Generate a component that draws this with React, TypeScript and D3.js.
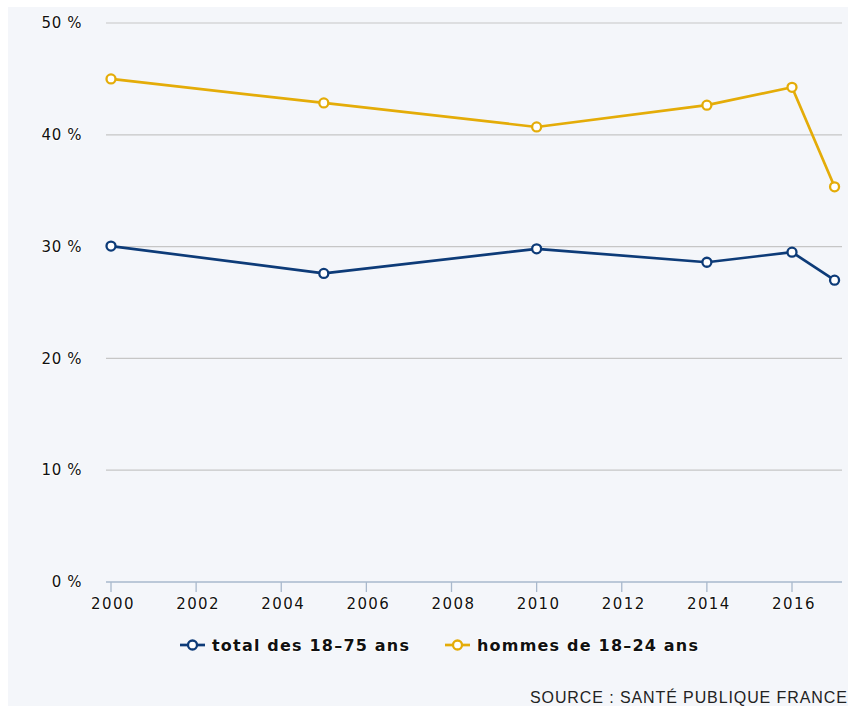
import React from "react";
import * as d3 from "d3";

const years = [2000, 2005, 2010, 2014, 2016, 2017];
const totalValues = [30.05, 27.6, 29.8, 28.6, 29.5, 27.0];
const hommesValues = [45.0, 42.85, 40.7, 42.65, 44.25, 35.35];
const yTicks = [0, 10, 20, 30, 40, 50];
const xTicks = [2000, 2002, 2004, 2006, 2008, 2010, 2012, 2014, 2016];
const seriesNames = ["total des 18–75 ans", "hommes de 18–24 ans"];
const colors = ["#0d3b78", "#e4ac08"];

export default function App() {
  const W = 848, H = 706;
  const x = d3.scaleLinear().domain([2000, 2016]).range([111, 792]);
  const y = d3.scaleLinear().domain([0, 50]).range([582, 23]);
  const line = d3.line<[number, number]>().x(d => x(d[0])).y(d => y(d[1]));
  const series = [totalValues, hommesValues];
  const font = "'DejaVu Sans', Verdana, sans-serif";
  const legendX = [180, 445];
  const halo = { stroke: "#ffffff", strokeWidth: 1.6, paintOrder: "stroke" as const, strokeLinejoin: "round" as const };
  return (
    <svg width={W} height={H} style={{ display: "block", position: "absolute", left: 0, top: 0 }}>
      <rect x={0} y={0} width={W} height={H} fill="#ffffff" />
      <rect x={8} y={7} width={W - 8} height={H - 7} fill="#f4f6fa" />
      {yTicks.map(t => (
        <g key={t}>
          {t > 0 && <line x1={106} x2={842} y1={y(t)} y2={y(t)} stroke="#c6c6c6" strokeWidth={1.2} />}
          <text x={82} y={y(t)} dy="0.35em" textAnchor="end" fontFamily={font} fontSize={15} letterSpacing={0.6} fill="#111" style={halo}>{`${t} %`}</text>
        </g>
      ))}
      <line x1={106} x2={842} y1={y(0)} y2={y(0)} stroke="#a9b8cc" strokeWidth={1.3} />
      {xTicks.map(t => (
        <g key={t}>
          <line x1={x(t)} x2={x(t)} y1={y(0)} y2={y(0) + 10} stroke="#a9b8cc" strokeWidth={1.3} />
          <text x={x(t) + 2} y={609} textAnchor="middle" fontFamily={font} fontSize={15} letterSpacing={1.4} fill="#111" style={halo}>{t}</text>
        </g>
      ))}
      {series.map((vals, i) => {
        const pts = years.map((yr, j) => [yr, vals[j]] as [number, number]);
        return (
          <g key={i}>
            <path d={line(pts) || ""} fill="none" stroke={colors[i]} strokeWidth={2.7} strokeLinejoin="round" />
            {pts.map((p, j) => (
              <circle key={j} cx={x(p[0])} cy={y(p[1])} r={4.5} fill="#ffffff" stroke={colors[i]} strokeWidth={2.3} />
            ))}
          </g>
        );
      })}
      {seriesNames.map((name, i) => (
        <g key={name} transform={`translate(${legendX[i]},645)`}>
          <line x1={0} x2={25} y1={0} y2={0} stroke={colors[i]} strokeWidth={2.7} />
          <circle cx={12.5} cy={0} r={4.5} fill="#ffffff" stroke={colors[i]} strokeWidth={2.3} />
          <text x={32} y={0} dy="0.35em" fontFamily={font} fontSize={16} fontWeight="bold" letterSpacing={1.2} fill="#111" style={halo}>{name}</text>
        </g>
      ))}
      <text x={530} y={703} fontFamily="'Liberation Sans', Arial, sans-serif" fontSize={16} letterSpacing={0.9} fill="#222">SOURCE : SANTÉ PUBLIQUE FRANCE</text>
    </svg>
  );
}
